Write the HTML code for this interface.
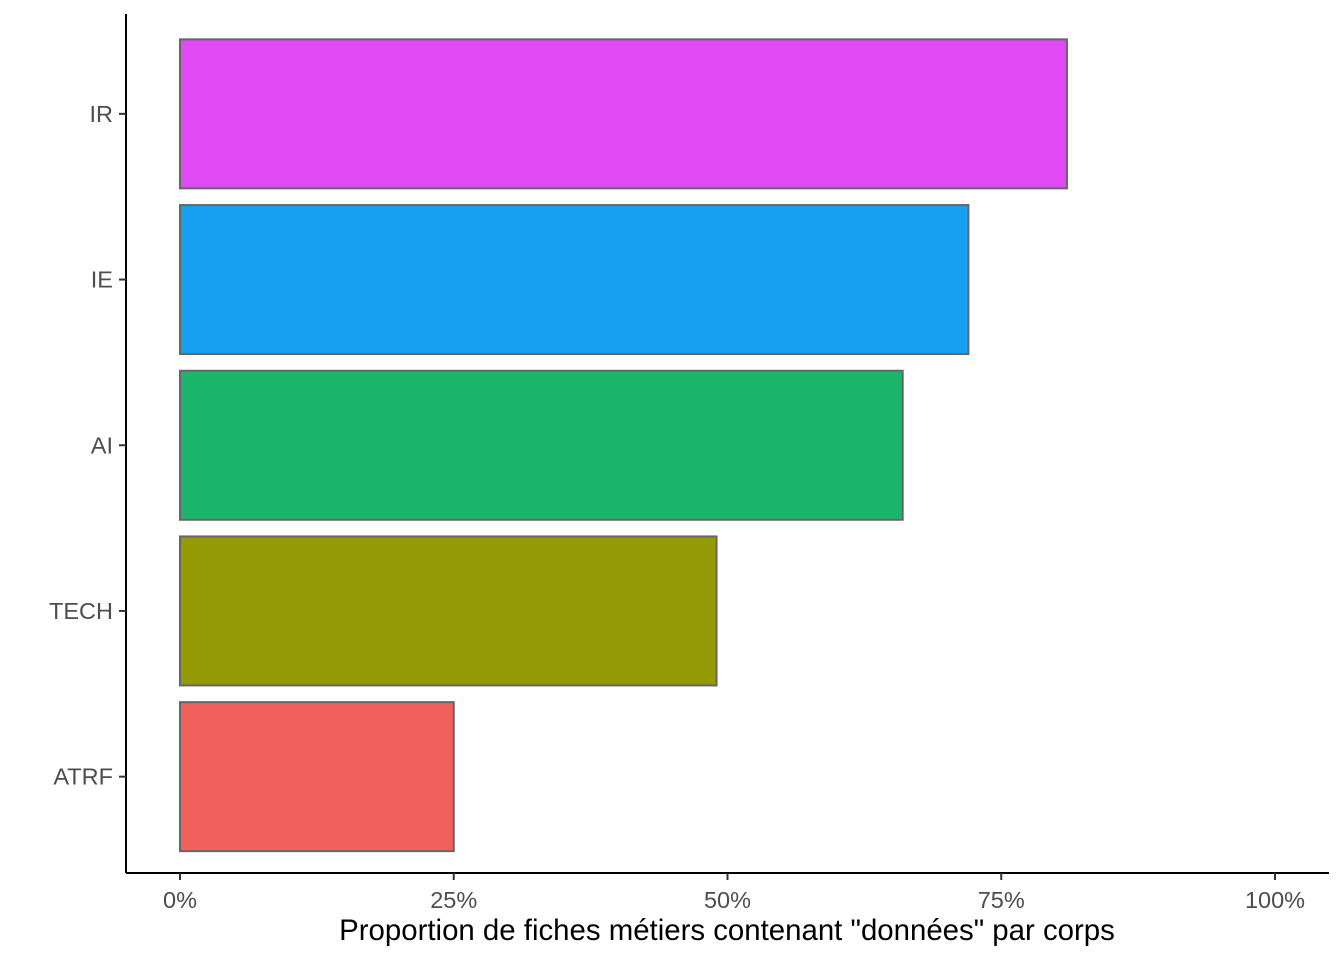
<!DOCTYPE html>
<html><head><meta charset="utf-8"><style>body{margin:0;background:#fff}svg{display:block}</style></head>
<body>
<svg id="chart" width="1344" height="960" xmlns="http://www.w3.org/2000/svg" font-family="Liberation Sans, sans-serif">
<rect width="1344" height="960" fill="#fff"/>
<g id="bars"></g>
<line x1="126" y1="14" x2="126" y2="873" stroke="#000" stroke-width="2"/>
<line x1="126" y1="873" x2="1329" y2="873" stroke="#000" stroke-width="2"/>
<g id="axes"></g>
<text x="727" y="940" text-anchor="middle" font-size="29.4" fill="#000">Proportion de fiches métiers contenant "données" par corps</text>
</svg>
<script>
const categories = ["IR","IE","AI","TECH","ATRF"];
const values = [81,72,66,49,25];
const colors = ["#DF4AF4","#17A0F2","#1BB66B","#949A03","#F2605C"];
const xTicks = [0,25,50,75,100];
const xTickLabels = ["0%","25%","50%","75%","100%"];
const ns="http://www.w3.org/2000/svg";
const x = v => 180 + v*10.95;
const bandTop = 31, band = 165.7;
const yc = i => bandTop + band*i + band/2;
const bars=document.getElementById('bars'), axes=document.getElementById('axes');
function mk(tag,attrs,parent){const e=document.createElementNS(ns,tag);for(const k in attrs)e.setAttribute(k,attrs[k]);parent.appendChild(e);return e;}
categories.forEach((c,i)=>{
  const r=mk('rect',{x:x(0),y:yc(i)-74.5,width:x(values[i])-x(0),height:149,fill:colors[i],stroke:'#666',"stroke-width":2},bars);
  
  
  const t=mk('line',{x1:119,x2:126,y1:yc(i),y2:yc(i),stroke:'#333','stroke-width':2},axes);
  
  
  const l=mk('text',{x:113,y:yc(i)+8,'text-anchor':'end','font-size':23.5,fill:'#4d4d4d'},axes);
  l.textContent=c;
  
  
});
xTicks.forEach((v,i)=>{
  const t=mk('line',{x1:x(v),x2:x(v),y1:873,y2:880,stroke:'#333','stroke-width':2},axes);
  
  
  const l=mk('text',{x:x(v),y:908,'text-anchor':'middle','font-size':23.5,fill:'#4d4d4d'},axes);
  l.textContent=xTickLabels[i];
  
  
});
</script>
</body></html>
